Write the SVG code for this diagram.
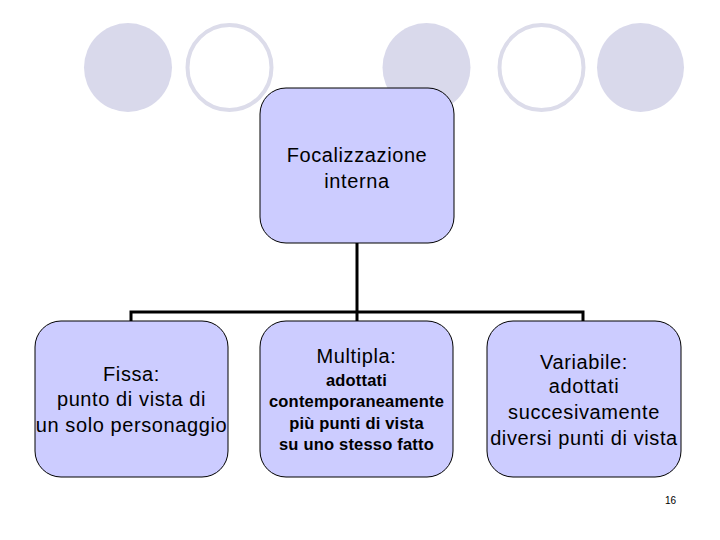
<svg xmlns="http://www.w3.org/2000/svg" width="720" height="540" viewBox="0 0 720 540">
<style>
.dot{fill:#d9d9eb;stroke:none}
.ring{fill:#fff;stroke:#dcdcea;stroke-width:4}
.node{fill:#ccccff;stroke:#000;stroke-width:1}
.t{font-family:"Liberation Sans",Arial,sans-serif;font-size:20px;letter-spacing:0.6px;fill:#000;text-anchor:middle}
.s{font-family:"Liberation Sans",Arial,sans-serif;font-size:16.5px;font-weight:bold;letter-spacing:0.2px;fill:#000;text-anchor:middle}
.c{fill:none;stroke:#000;stroke-width:3}
</style>
<rect width="720" height="540" fill="#fff"/>
<g id="decor">
<ellipse class="dot" cx="128" cy="67.5" rx="44" ry="44.5"/>
<ellipse class="ring" cx="229.5" cy="67.5" rx="42" ry="42.5"/>
<ellipse class="dot" cx="426.5" cy="67.5" rx="44" ry="44.5"/>
<ellipse class="ring" cx="541.5" cy="67.5" rx="42" ry="42.5"/>
<ellipse class="dot" cx="640.5" cy="67.5" rx="43.5" ry="44.5"/>
</g>
<g id="connectors">
<path class="c" d="M357 243 V312 M131 321 V312 H583 V321 M357 312 V321"/>
</g>
<g id="root">
<rect class="node" x="260" y="88" width="194" height="155" rx="26"/>
<text class="t" x="357" y="162">Focalizzazione</text>
<text class="t" x="357" y="188">interna</text>
</g>
<g id="fissa">
<rect class="node" x="35" y="321" width="193" height="156" rx="26"/>
<text class="t" x="131.5" y="381">Fissa:</text>
<text class="t" x="131.5" y="406">punto di vista di</text>
<text class="t" x="131.5" y="432">un solo personaggio</text>
</g>
<g id="multipla">
<rect class="node" x="260" y="321" width="193" height="156" rx="26"/>
<text class="t" x="356.5" y="363">Multipla:</text>
<text class="s" x="356.5" y="386">adottati</text>
<text class="s" x="356.5" y="407">contemporaneamente</text>
<text class="s" x="356.5" y="429">più punti di vista</text>
<text class="s" x="356.5" y="450">su uno stesso fatto</text>
</g>
<g id="variabile">
<rect class="node" x="487" y="321" width="194" height="156" rx="26"/>
<text class="t" x="584" y="369">Variabile:</text>
<text class="t" x="584" y="393">adottati</text>
<text class="t" x="584" y="419">succesivamente</text>
<text class="t" x="584" y="445">diversi punti di vista</text>
</g>
<text x="676" y="504" font-family="Liberation Sans, Arial, sans-serif" font-size="10" text-anchor="end">16</text>
</svg>
